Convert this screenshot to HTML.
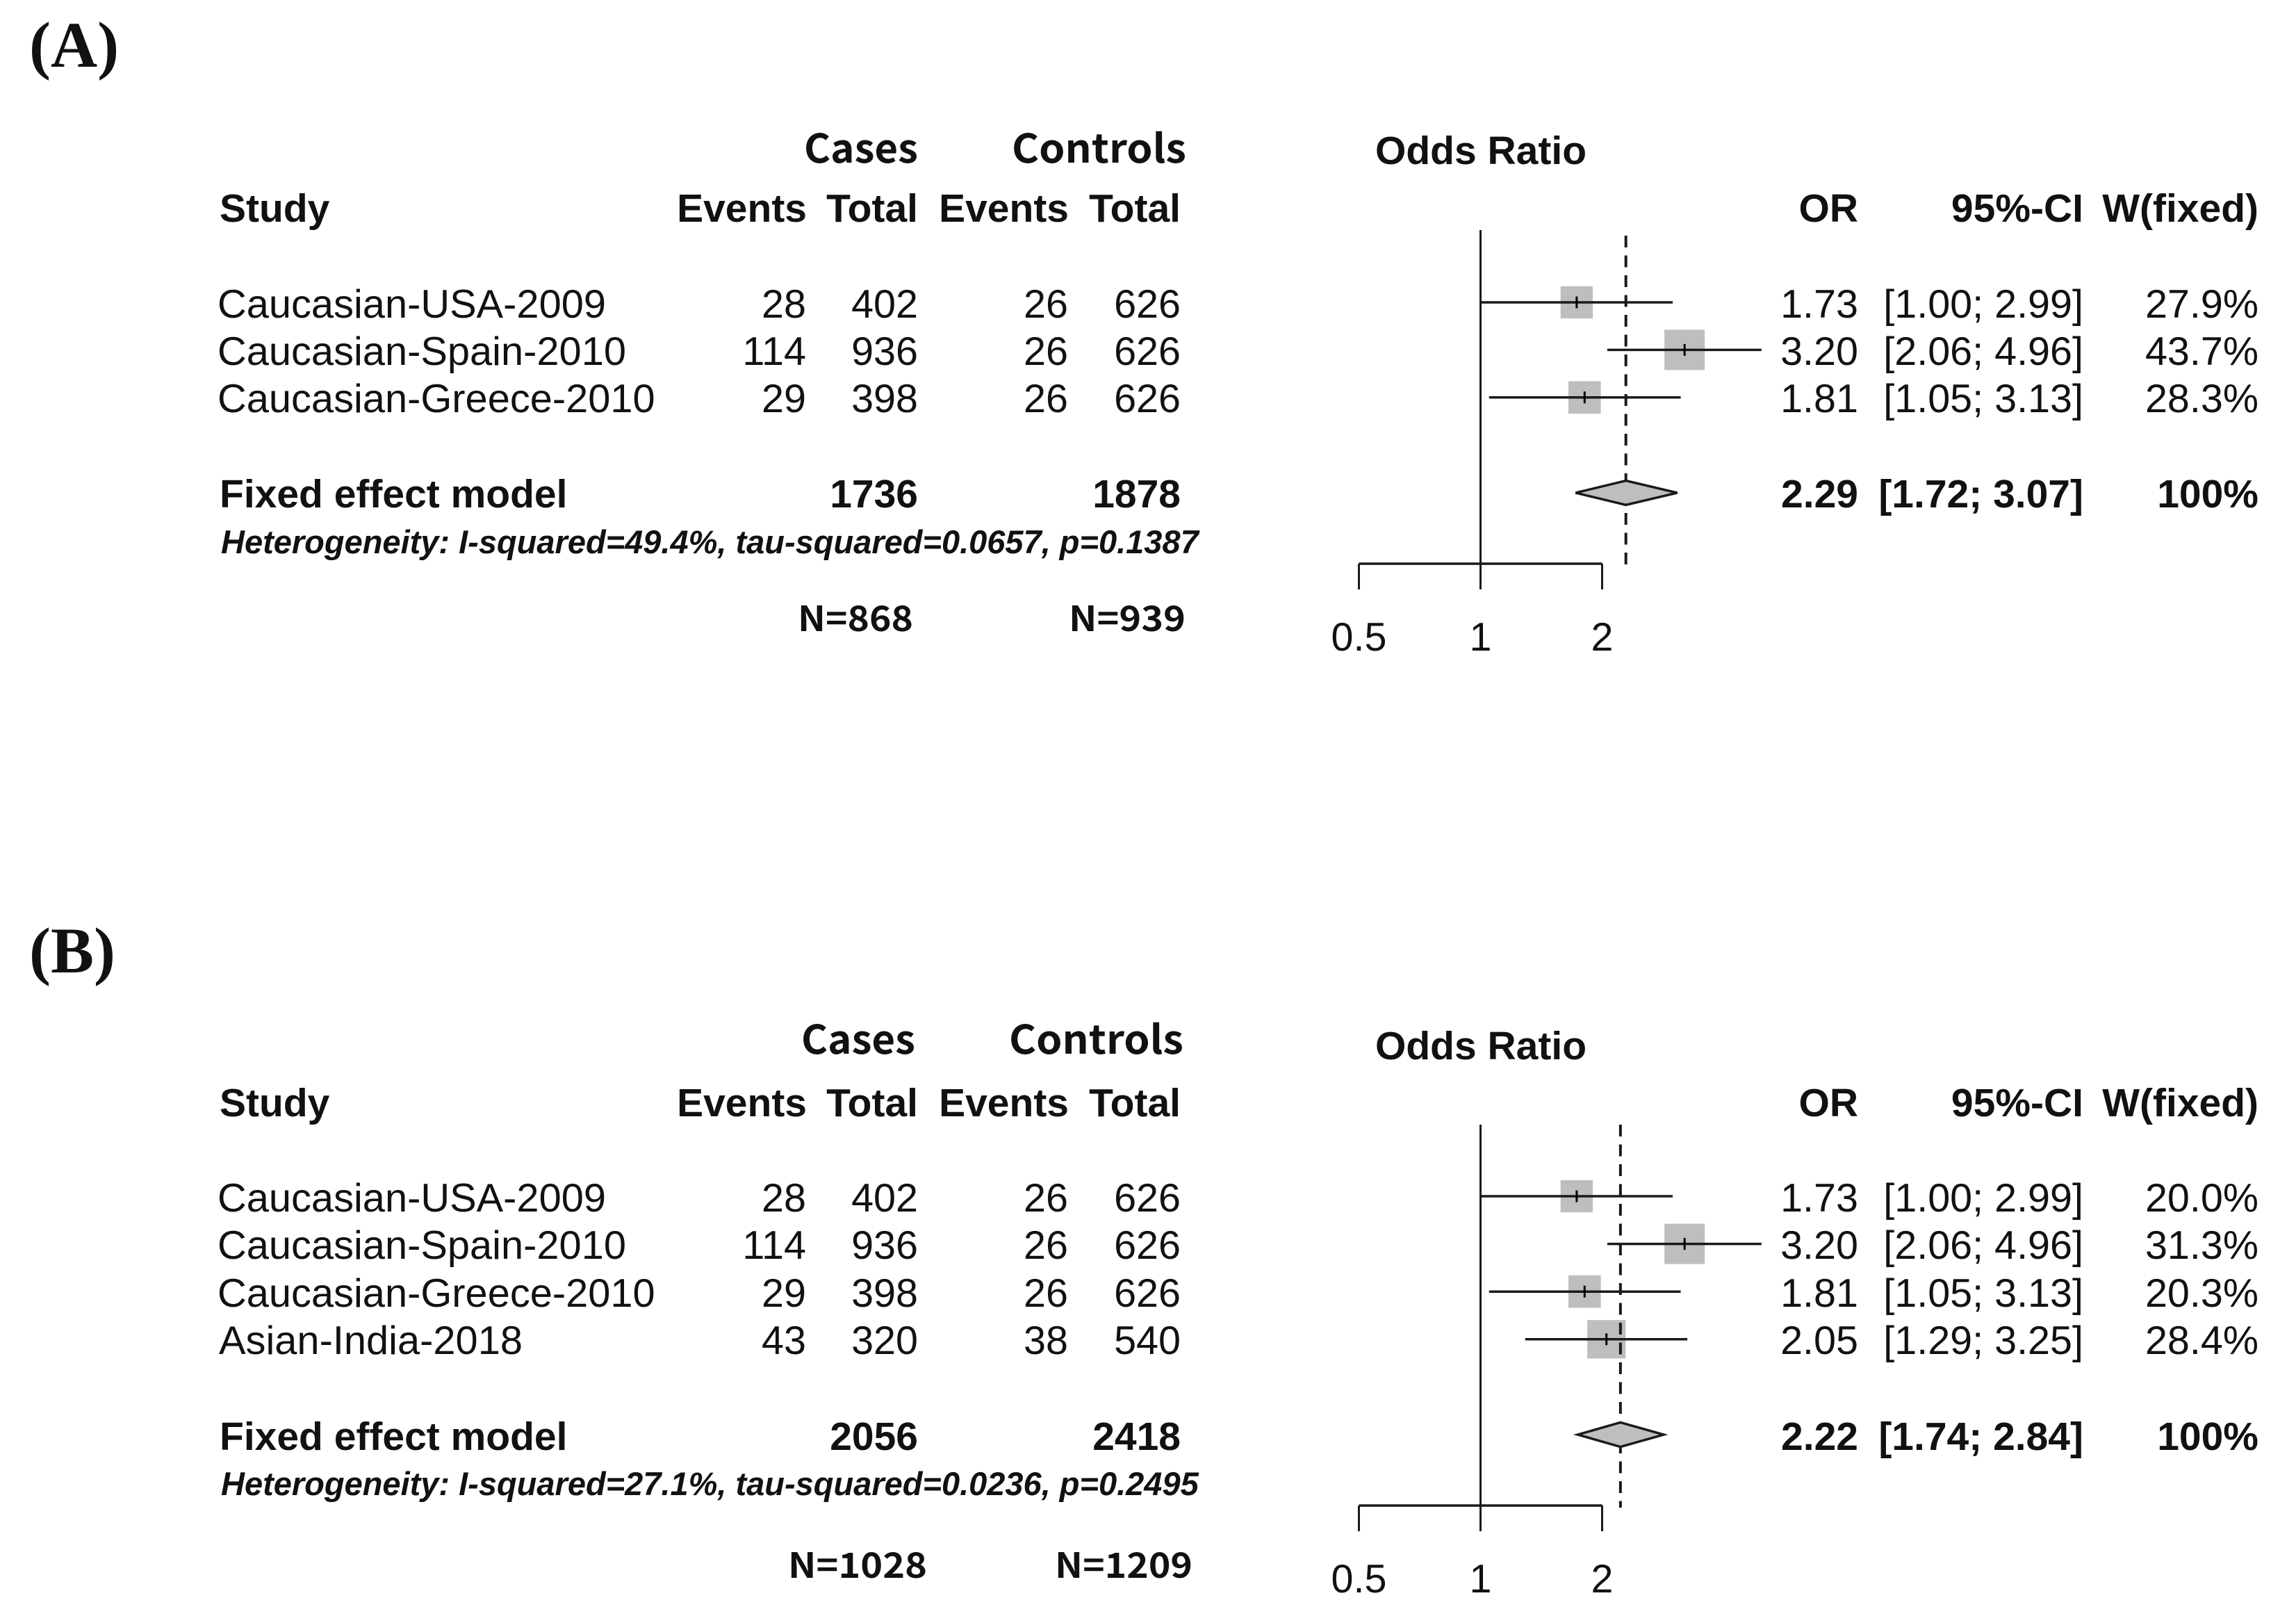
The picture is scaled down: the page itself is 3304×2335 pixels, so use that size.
<!DOCTYPE html>
<html lang="en">
<head>
<meta charset="utf-8">
<title>Forest plots of odds ratios</title>
<style>
html,body{margin:0;padding:0;background:#fff;}
svg{display:block;}
text{font-family:"Liberation Sans",sans-serif;font-size:57.5px;fill:#111;}
.b{font-weight:700;font-size:57px;}
.e{text-anchor:end;}
.s{font-size:57.8px;}
.h{font-weight:700;font-style:italic;font-size:47px;}
.k{font-family:"Noto Sans CJK KR","Liberation Sans",sans-serif;font-weight:700;font-size:57px;}
.n{font-family:"Noto Sans CJK KR","Liberation Sans",sans-serif;font-weight:700;font-size:50px;}
.p{font-family:"Liberation Serif",serif;font-weight:700;font-size:93px;}
</style>
</head>
<body>
<svg id="fig" xmlns="http://www.w3.org/2000/svg" width="3304" height="2335" viewBox="0 0 3304 2335">
<rect width="3304" height="2335" fill="#fff"/>

<g>
<text class="p" x="42" y="96">(A)</text>
<text class="k e" x="1321" y="234" textLength="164" lengthAdjust="spacingAndGlyphs">Cases</text>
<text class="k e" x="1707" y="234" textLength="251" lengthAdjust="spacingAndGlyphs">Controls</text>
<text class="b" x="1979" y="236">Odds Ratio</text>
<text class="b" x="316" y="319">Study</text>
<text class="b e" x="1161" y="319">Events</text>
<text class="b e" x="1321" y="319">Total</text>
<text class="b e" x="1538" y="319">Events</text>
<text class="b e" x="1699" y="319">Total</text>
<text class="b e" x="2674" y="319">OR</text>
<text class="b e" x="2998" y="319">95%-CI</text>
<text class="b e" x="3250" y="319">W(fixed)</text>

<g>
<text class="s" x="313" y="457">Caucasian-USA-2009</text>
<text class="e" x="1160" y="457">28</text>
<text class="e" x="1321" y="457">402</text>
<text class="e" x="1537" y="457">26</text>
<text class="e" x="1699" y="457">626</text>
<text class="e" x="2674" y="457">1.73</text>
<text class="e" x="2998" y="457">[1.00; 2.99]</text>
<text class="e" x="3250" y="457">27.9%</text>
</g>
<g>
<text class="s" x="313" y="525">Caucasian-Spain-2010</text>
<text class="e" x="1160" y="525">114</text>
<text class="e" x="1321" y="525">936</text>
<text class="e" x="1537" y="525">26</text>
<text class="e" x="1699" y="525">626</text>
<text class="e" x="2674" y="525">3.20</text>
<text class="e" x="2998" y="525">[2.06; 4.96]</text>
<text class="e" x="3250" y="525">43.7%</text>
</g>
<g>
<text class="s" x="313" y="593">Caucasian-Greece-2010</text>
<text class="e" x="1160" y="593">29</text>
<text class="e" x="1321" y="593">398</text>
<text class="e" x="1537" y="593">26</text>
<text class="e" x="1699" y="593">626</text>
<text class="e" x="2674" y="593">1.81</text>
<text class="e" x="2998" y="593">[1.05; 3.13]</text>
<text class="e" x="3250" y="593">28.3%</text>
</g>
<g>
<text class="b" x="316" y="730">Fixed effect model</text>
<text class="b e" x="1321" y="730">1736</text>
<text class="b e" x="1699" y="730">1878</text>
<text class="b e" x="2674" y="730">2.29</text>
<text class="b e" x="2998" y="730">[1.72; 3.07]</text>
<text class="b e" x="3250" y="730">100%</text>
</g>
<text class="h" x="318" y="796">Heterogeneity: I-squared=49.4%, tau-squared=0.0657, p=0.1387</text>
<text class="n e" x="1314" y="908" textLength="166" lengthAdjust="spacingAndGlyphs">N=868</text>
<text class="n e" x="1706" y="908" textLength="168" lengthAdjust="spacingAndGlyphs">N=939</text>
<g id="marks-a"></g>
</g>

<g>
<text class="p" x="42" y="1399">(B)</text>
<text class="k e" x="1317" y="1516" textLength="164" lengthAdjust="spacingAndGlyphs">Cases</text>
<text class="k e" x="1703" y="1516" textLength="251" lengthAdjust="spacingAndGlyphs">Controls</text>
<text class="b" x="1979" y="1524">Odds Ratio</text>
<text class="b" x="316" y="1606">Study</text>
<text class="b e" x="1161" y="1606">Events</text>
<text class="b e" x="1321" y="1606">Total</text>
<text class="b e" x="1538" y="1606">Events</text>
<text class="b e" x="1699" y="1606">Total</text>
<text class="b e" x="2674" y="1606">OR</text>
<text class="b e" x="2998" y="1606">95%-CI</text>
<text class="b e" x="3250" y="1606">W(fixed)</text>

<g>
<text class="s" x="313" y="1743">Caucasian-USA-2009</text>
<text class="e" x="1160" y="1743">28</text>
<text class="e" x="1321" y="1743">402</text>
<text class="e" x="1537" y="1743">26</text>
<text class="e" x="1699" y="1743">626</text>
<text class="e" x="2674" y="1743">1.73</text>
<text class="e" x="2998" y="1743">[1.00; 2.99]</text>
<text class="e" x="3250" y="1743">20.0%</text>
</g>
<g>
<text class="s" x="313" y="1811">Caucasian-Spain-2010</text>
<text class="e" x="1160" y="1811">114</text>
<text class="e" x="1321" y="1811">936</text>
<text class="e" x="1537" y="1811">26</text>
<text class="e" x="1699" y="1811">626</text>
<text class="e" x="2674" y="1811">3.20</text>
<text class="e" x="2998" y="1811">[2.06; 4.96]</text>
<text class="e" x="3250" y="1811">31.3%</text>
</g>
<g>
<text class="s" x="313" y="1880">Caucasian-Greece-2010</text>
<text class="e" x="1160" y="1880">29</text>
<text class="e" x="1321" y="1880">398</text>
<text class="e" x="1537" y="1880">26</text>
<text class="e" x="1699" y="1880">626</text>
<text class="e" x="2674" y="1880">1.81</text>
<text class="e" x="2998" y="1880">[1.05; 3.13]</text>
<text class="e" x="3250" y="1880">20.3%</text>
</g>
<g>
<text class="s" x="315" y="1948">Asian-India-2018</text>
<text class="e" x="1160" y="1948">43</text>
<text class="e" x="1321" y="1948">320</text>
<text class="e" x="1537" y="1948">38</text>
<text class="e" x="1699" y="1948">540</text>
<text class="e" x="2674" y="1948">2.05</text>
<text class="e" x="2998" y="1948">[1.29; 3.25]</text>
<text class="e" x="3250" y="1948">28.4%</text>
</g>
<g>
<text class="b" x="316" y="2086">Fixed effect model</text>
<text class="b e" x="1321" y="2086">2056</text>
<text class="b e" x="1699" y="2086">2418</text>
<text class="b e" x="2674" y="2086">2.22</text>
<text class="b e" x="2998" y="2086">[1.74; 2.84]</text>
<text class="b e" x="3250" y="2086">100%</text>
</g>
<text class="h" x="318" y="2151">Heterogeneity: I-squared=27.1%, tau-squared=0.0236, p=0.2495</text>
<text class="n e" x="1334" y="2270" textLength="200" lengthAdjust="spacingAndGlyphs">N=1028</text>
<text class="n e" x="1716" y="2270" textLength="198" lengthAdjust="spacingAndGlyphs">N=1209</text>
<g id="marks-b"></g>
</g>
</svg>

<script>
const tickValues = [0.5, 1, 2];
const tickLabels = ['0.5', '1', '2'];

const orA = [1.73, 3.20, 1.81];
const lowA = [1.00, 2.06, 1.05];
const highA = [2.99, 4.96, 3.13];
const weightA = [27.9, 43.7, 28.3];
const pooledOrA = 2.29;
const pooledLowA = 1.72;
const pooledHighA = 3.07;

const orB = [1.73, 3.20, 1.81, 2.05];
const lowB = [1.00, 2.06, 1.05, 1.29];
const highB = [2.99, 4.96, 3.13, 3.25];
const weightB = [20.0, 31.3, 20.3, 28.4];
const pooledOrB = 2.22;
const pooledLowB = 1.74;
const pooledHighB = 2.84;

const NS = 'http://www.w3.org/2000/svg';

function xScale(v) {
  return 2130.5 + 175 * Math.log2(v);
}

function shape(parent, tag, attrs) {
  const el = document.createElementNS(NS, tag);
  for (const k in attrs) el.setAttribute(k, attrs[k]);
  parent.appendChild(el);
  return el;
}

function drawForest(parent, or, low, high, weight, pooled, pooledLow, pooledHigh, g) {
  const ink = '#1a1a1a';
  const yScale = i => g.firstRow + i * g.rowStep;
  const maxW = Math.max.apply(null, weight);

  or.forEach((v, i) => {
    const s = 58 * Math.sqrt(weight[i] / maxW);
    const sq = shape(parent, 'rect', {x: xScale(v) - s / 2, y: yScale(i) - s / 2, width: s, height: s, fill: '#bebebe'});
    
    
  });

  const ref = shape(parent, 'line', {x1: xScale(1), x2: xScale(1), y1: g.top, y2: g.tickEnd, stroke: ink, 'stroke-width': 3});
  
  

  const dash = shape(parent, 'line', {x1: xScale(pooled), x2: xScale(pooled), y1: g.dashTop, y2: g.dashEnd, stroke: ink, 'stroke-width': 4, 'stroke-dasharray': '17 11.5'});
  
  

  or.forEach((v, i) => {
    const ci = shape(parent, 'line', {x1: xScale(low[i]), x2: xScale(high[i]), y1: yScale(i), y2: yScale(i), stroke: ink, 'stroke-width': 3.5});
    
    
    const mid = shape(parent, 'line', {x1: xScale(v), x2: xScale(v), y1: yScale(i) - 8.5, y2: yScale(i) + 8.5, stroke: '#000', 'stroke-width': 3});
    
    
  });

  const pts = [
    [xScale(pooledLow), g.diamond],
    [xScale(pooled), g.diamond - 17.5],
    [xScale(pooledHigh), g.diamond],
    [xScale(pooled), g.diamond + 17.5]
  ].map(p => p.join(',')).join(' ');
  const dia = shape(parent, 'polygon', {points: pts, fill: '#bebebe', stroke: ink, 'stroke-width': 3.5});
  
  

  const axis = shape(parent, 'line', {x1: xScale(tickValues[0]), x2: xScale(tickValues[tickValues.length - 1]), y1: g.axis, y2: g.axis, stroke: ink, 'stroke-width': 3.5});
  
  

  tickValues.forEach((v, i) => {
    const t = shape(parent, 'line', {x1: xScale(v), x2: xScale(v), y1: g.axis, y2: g.tickEnd, stroke: ink, 'stroke-width': 3});
    
    
    const lab = shape(parent, 'text', {x: xScale(v), y: g.tickText, 'text-anchor': 'middle'});
    lab.textContent = tickLabels[i];
    
    
  });
}

drawForest(document.getElementById('marks-a'), orA, lowA, highA, weightA, pooledOrA, pooledLowA, pooledHighA,
  {firstRow: 435, rowStep: 68.4, diamond: 709, top: 331, dashTop: 339, dashEnd: 816, axis: 811, tickEnd: 848, tickText: 936});
drawForest(document.getElementById('marks-b'), orB, lowB, highB, weightB, pooledOrB, pooledLowB, pooledHighB,
  {firstRow: 1721, rowStep: 68.6, diamond: 2064, top: 1618, dashTop: 1618, dashEnd: 2169, axis: 2166, tickEnd: 2203, tickText: 2291});
</script>
</body>
</html>
